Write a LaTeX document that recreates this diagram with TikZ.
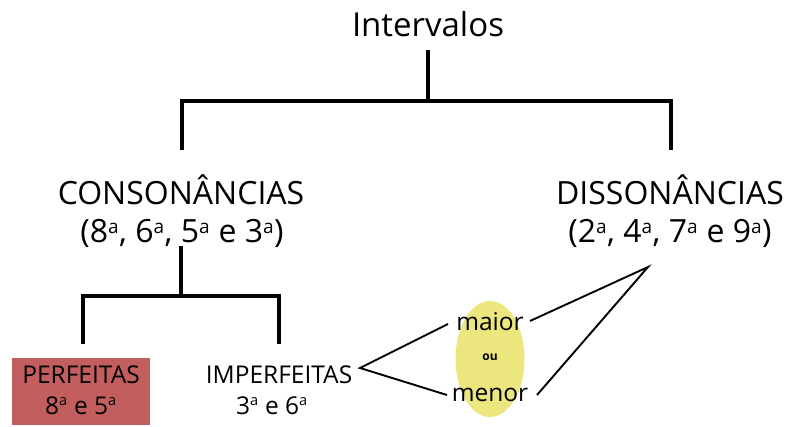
\documentclass[tikz,border=0pt]{standalone}
\usepackage{fontspec}
\setmainfont{Open Sans}
\usetikzlibrary{shapes.geometric}
\definecolor{perfred}{HTML}{C25F5E}
\definecolor{ellyellow}{HTML}{EBE77E}
\newcommand{\ord}[1]{#1\textsuperscript{\scalebox{0.85}{a}}}
\begin{document}
\begin{tikzpicture}[x=1pt,y=-1pt,
  titlefont/.style={inner sep=0pt,font=\fontsize{33}{38}\selectfont},
  big/.style={inner sep=0pt,font=\fontsize{32}{37}\selectfont},
  mid/.style={inner sep=0pt,font=\fontsize{24.5}{29}\selectfont},
  ovaltext/.style={inner sep=0pt,font=\fontsize{24.5}{29}\selectfont},
  tiny/.style={inner sep=0pt,font=\fontsize{12}{14}\selectfont\bfseries},
  tree/.style={line width=3.2pt,line join=miter,line cap=rect},
  thin/.style={line width=1.9pt}]
\useasboundingbox (0,0) rectangle (787,427);
\fill[white] (0,0) rectangle (787,427);
% nodes
\node[titlefont] (title) at (428,24) {Intervalos};
\node[big] (cons) at (181,190) {CONSONÂNCIAS};
\node[big] (consnum) at (182,233) {(\ord{8}, \ord{6}, \ord{5} e \ord{3})};
\node[big] (diss) at (670,190) {DISSONÂNCIAS};
\node[big] (dissnum) at (670,233) {(\ord{2}, \ord{4}, \ord{7} e \ord{9})};
\node[draw=none,fill=perfred,minimum width=138pt,minimum height=67pt,inner sep=0pt] (perfbox) at (81,391.5) {};
\node[mid] (perf) at (81,375) {PERFEITAS};
\node[mid] (perfnum) at (81,406) {\ord{8} e \ord{5}};
\node[mid] (imperf) at (279,375) {IMPERFEITAS};
\node[mid] (imperfnum) at (272,406) {\ord{3} e \ord{6}};
\node[ellipse,fill=ellyellow,minimum width=69pt,minimum height=116pt,inner sep=0pt] (oval) at (490,359) {};
\node[ovaltext] (maior) at (490,322) {maior};
\node[tiny] (ou) at (490,357) {ou};
\node[ovaltext] (menor) at (490,395) {menor};
% tree coordinates
\coordinate (t0) at (428,52);
\coordinate (t1) at (428,101);
\coordinate (l0) at (182,101);
\coordinate (l1) at (182,150);
\coordinate (r0) at (671,101);
\coordinate (r1) at (671,150);
\coordinate (c0) at (181,248);
\coordinate (c1) at (181,296);
\coordinate (p0) at (83,296);
\coordinate (p1) at (83,344);
\coordinate (i0) at (279,296);
\coordinate (i1) at (279,344);
\coordinate (tip) at (360,368);
\coordinate (maiorL) at (448,324);
\coordinate (menorL) at (447,395);
\coordinate (maiorR) at (530,321);
\coordinate (menorR) at (537,395);
\coordinate (apex) at (648,267);
% connectors
\draw[tree] (t0) -- (t1);
\draw[tree,line cap=butt] (l1) -- (l0) -- (r0) -- (r1);
\draw[tree] (c0) -- (c1);
\draw[tree,line cap=butt] (p1) -- (p0) -- (i0) -- (i1);
\draw[thin] (maiorL) -- (tip) -- (menorL);
\draw[thin] (maiorR) -- (apex) -- (menorR);
\end{tikzpicture}
\end{document}
